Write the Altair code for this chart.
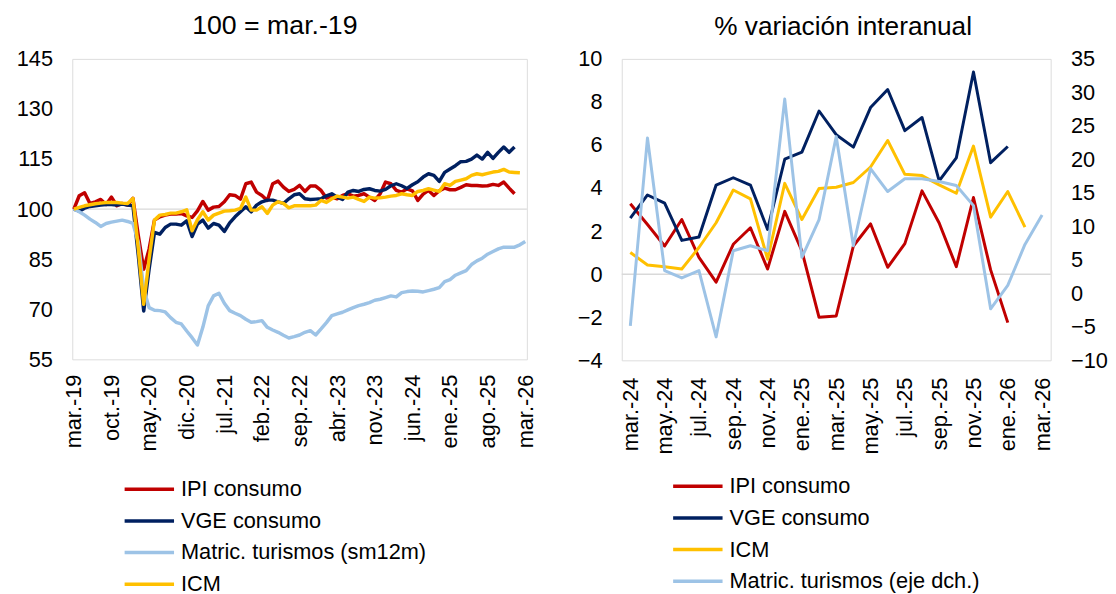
import altair as alt
import pandas as pd

FONT = "Liberation Sans"

MESES = ["ene.", "feb.", "mar.", "abr.", "may.", "jun.", "jul.", "ago.", "sep.", "oct.", "nov.", "dic."]


def month_labels(start_year, start_month, n):
    out = []
    y, m = start_year, start_month
    for _ in range(n):
        out.append(f"{MESES[m - 1]}-{y % 100:02d}")
        m += 1
        if m > 12:
            m = 1
            y += 1
    return out


# ---------------- left panel: index 100 = mar.-19 ----------------
meses_izq = month_labels(2019, 3, 85)
ticks_izq = meses_izq[::7]

ipi_idx = [100, 104.0, 104.9, 101.7, 102.2, 102.9, 101.4, 103.6, 101.0, 101.7, 101.2, 103.2,
           92, 82, 88, 96.7, 97.7, 98.2, 98.5, 98.5, 98.7, 98.0, 97.5, 99.5, 102.3, 99.7, 100.6,
           100.8, 102.2, 104.3, 104.1, 103.0, 107.6, 108.1, 105.1, 104.1, 102.6, 107.6, 108.4,
           106.6, 105.3, 105.9, 107.1, 105.3, 106.9, 106.9, 105.6, 103.3, 103.6, 103.1, 104.1,
           104.6, 103.9, 104.1, 104.6, 103.6, 102.6, 104.6, 108.1, 107.6, 105.6, 105.1, 106.1,
           105.5, 102.6, 104.5, 105.6, 104.1, 105.5, 106.3, 105.8, 105.8, 106.5, 107.3, 107.1,
           107.1, 106.9, 107.0, 107.4, 107.1, 108.1, 106.3, 104.6]
vge_idx = [100, 99.4, 100.3, 100.8, 101, 101.2, 101.4, 101.4, 101.2, 101.5, 101.2, 101,
           86, 69.5, 82, 93, 92.5, 94.5, 95.5, 95.5, 95.2, 96.5, 91.8, 95.5, 96.7, 94.3, 95.7,
           95.2, 93.3, 95.9, 97.7, 99.2, 100.7, 99.2, 101.2, 102.2, 102.7, 102.7, 102.2, 101.7,
           103.1, 104.3, 104.6, 103.1, 102.9, 103.0, 103.1, 104.0, 104.6, 103.6, 102.9, 105.1,
           105.6, 105.3, 105.9, 106.1, 105.6, 105.4, 105.9, 107, 107.6, 107, 106.2, 107.3,
           108.2, 109.6, 110.6, 110.1, 108.3, 111, 112, 113, 114.2, 114.3, 115, 116.2, 115,
           117, 115.2, 117, 118.6, 117, 118.6]
icm_idx = [100, 100.5, 101, 101.3, 101.6, 101.8, 102, 102, 102, 101.8, 101.7, 103.2,
           88, 71.5, 85, 96.7, 98.2, 98.4, 98.8, 98.8, 99.2, 99.8, 93.5, 96.8, 99.2, 96.7, 98.2,
           98.8, 99.4, 99.5, 99.7, 100.2, 103.6, 99.7, 99.7, 100.7, 98.7, 101.2, 102.2, 101.7,
           100.4, 101, 101, 101, 101, 101.2, 102.6, 102, 103.1, 103.9, 103.6, 103.3, 103.6,
           102.9, 102.3, 103.6, 103.3, 103.4, 103.6, 103.9, 104.1, 104.6, 104.3, 104.1, 105.3,
           105.6, 106.1, 105.7, 105.3, 107.6, 107.1, 108.3, 108.7, 109.1, 110.1, 110.6, 110.3,
           110.7, 111.1, 111.3, 111.9, 111.1, 111.0, 110.9]
mat_idx = [100, 99.2, 98.2, 97, 96, 94.8, 95.7, 96.1, 96.4, 96.7, 96.3, 95.7,
           90, 76, 70.5, 69.7, 69.6, 69.2, 67.5, 66.1, 65.6, 63.5, 61.5, 59.3, 64.6, 71, 74,
           74.8, 71.8, 69.6, 68.8, 68.1, 67, 66.1, 66.3, 66.6, 64.6, 63.8, 63.1, 62.2, 61.4,
           61.8, 62.3, 63.1, 63.6, 62.3, 64.1, 66, 68.1, 68.6, 69.1, 69.8, 70.5, 71.1, 71.5,
           72.0, 72.7, 73, 73.5, 74, 73.7, 75, 75.3, 75.5, 75.4, 75.2, 75.6, 76.0, 76.5, 78.3,
           78.9, 80.2, 80.9, 81.6, 83.4, 84.5, 85.3, 86.5, 87.3, 88.1, 88.6, 88.6, 88.6, 89.3,
           90.3]

series_izq = ["IPI consumo", "VGE consumo", "Matric. turismos (sm12m)", "ICM"]
colores_izq = ["#C00000", "#002060", "#9DC3E6", "#FFC000"]
valores_izq = [ipi_idx, vge_idx, mat_idx, icm_idx]

# ---------------- right panel: % y/y ----------------
meses_der = month_labels(2024, 3, 25)
ticks_der = meses_der[::2]

ipi_ia = [3.27, 2.31, 1.31, 2.54, 0.78, -0.37, 1.39, 2.16, 0.24, 2.92, 1.08, -2.0, -1.94,
          1.31, 2.34, 0.32, 1.42, 3.87, 2.38, 0.35, 3.56, 0.2, -2.25]
vge_ia = [2.61, 3.68, 3.30, 1.57, 1.73, 4.14, 4.48, 4.14, 2.08, 5.34, 5.67, 7.58, 6.48,
          5.90, 7.74, 8.58, 6.67, 7.28, 4.33, 5.40, 9.39, 5.18, 5.93]
icm_ia = [1.01, 0.43, 0.35, 0.24, 1.24, 2.39, 3.91, 3.50, 0.70, 4.22, 2.54, 3.98, 4.04,
          4.26, 4.98, 6.21, 4.64, 4.58, 4.15, 3.76, 5.95, 2.65, 3.84, 2.19]
mat_ia = [-4.86, 23.2, 3.4, 2.3, 3.4, -6.5, 6.36, 7.1, 6.36, 29.0, 5.37, 11.0, 23.4, 7.1,
          18.6, 15.2, 17.1, 17.1, 16.7, 16.1, 13.1, -2.3, 1.2, 7.3, 11.7]

series_der = ["IPI consumo", "VGE consumo", "ICM", "Matric. turismos (eje dch.)"]
colores_der = ["#C00000", "#002060", "#FFC000", "#9DC3E6"]

y_ticks_izq = [55, 70, 85, 100, 115, 130, 145]
y_ticks_der = [-4, -2, 0, 2, 4, 6, 8, 10]
y_ticks_der2 = [-10, -5, 0, 5, 10, 15, 20, 25, 30, 35]


def long_df(meses, nombres, listas):
    rows = []
    for k, (nom, vals) in enumerate(zip(nombres, listas)):
        for i, v in enumerate(vals):
            rows.append({"mes": meses[i], "serie": nom, "valor": v, "orden": k})
    return pd.DataFrame(rows)


df_izq = long_df(meses_izq, series_izq, valores_izq)
df_der_left = long_df(meses_der, series_der[:3], [ipi_ia, vge_ia, icm_ia])
df_der_right = long_df(meses_der, series_der[3:], [mat_ia])

LABEL = 22


def x_axis(meses, ticks, pad, lpad):
    return alt.X(
        "mes:O", sort=meses,
        scale=alt.Scale(type="point", padding=pad),
        axis=alt.Axis(values=ticks, labelAngle=-90, title=None, ticks=False, domain=False,
                      grid=False, labelFontSize=LABEL, labelPadding=lpad, labelColor="#000000",
                      labelFont=FONT),
    )


def y_axis(values, orient):
    return alt.Axis(values=values, orient=orient, title=None, ticks=False, domain=False,
                    grid=False, labelFontSize=LABEL, labelFont=FONT, labelColor="#000000",
                    labelPadding=20)


def legend(x, y):
    return alt.Legend(orient="none", legendX=x, legendY=y, direction="vertical", title=None,
                      symbolType="M-1,0H3", symbolSize=625, symbolStrokeWidth=3.5,
                      labelFontSize=LABEL, labelFont=FONT, labelColor="#000000",
                      labelOffset=30, rowPadding=6, labelLimit=400)


# left chart
y_izq = alt.Scale(domain=[55, 145], nice=False, zero=False)
ref_izq = alt.Chart(pd.DataFrame({"v": [100]})).mark_rule(color="#D9D9D9", strokeWidth=1.5).encode(
    y=alt.Y("v:Q", scale=y_izq, axis=y_axis(y_ticks_izq, "left"))
)
lines_izq = alt.Chart(df_izq).mark_line(strokeWidth=3.5, strokeJoin="round").encode(
    x=x_axis(meses_izq, ticks_izq, 0.3, 15),
    y=alt.Y("valor:Q", scale=y_izq, axis=y_axis(y_ticks_izq, "left")),
    color=alt.Color("serie:N", scale=alt.Scale(domain=series_izq, range=colores_izq),
                    legend=legend(51, 421)),
    detail="orden:N",
)
left = alt.layer(ref_izq, lines_izq).properties(
    width=460, height=304,
    title=alt.TitleParams("100 = mar.-19", fontSize=27, font=FONT, fontWeight="normal",
                          anchor="middle", dx=-25, offset=8, color="#000000"),
)

# right chart
ref_der = alt.Chart(pd.DataFrame({"v": [0]})).mark_rule(color="#D9D9D9", strokeWidth=1.5).encode(
    y=alt.Y("v:Q", scale=alt.Scale(domain=[-4, 10], nice=False), axis=None)
)
color_der = alt.Color("serie:N", scale=alt.Scale(domain=series_der, range=colores_der),
                      legend=legend(50, 418))
lines_der = alt.Chart(df_der_left).mark_line(strokeWidth=3, strokeJoin="round").encode(
    x=x_axis(meses_der, ticks_der, 0.5, 17),
    y=alt.Y("valor:Q", scale=alt.Scale(domain=[-4, 10], nice=False, zero=False),
            axis=y_axis(y_ticks_der, "left")),
    color=color_der,
    detail="orden:N",
)
line_mat = alt.Chart(df_der_right).mark_line(strokeWidth=3, strokeJoin="round").encode(
    x=x_axis(meses_der, ticks_der, 0.5, 17),
    y=alt.Y("valor:Q", scale=alt.Scale(domain=[-10, 35], nice=False, zero=False),
            axis=y_axis(y_ticks_der2, "right")),
    color=color_der,
)
right = alt.layer(ref_der, lines_der, line_mat).resolve_scale(y="independent").properties(
    width=434, height=305,
    title=alt.TitleParams("% variación interanual", fontSize=26.5, font=FONT, fontWeight="normal",
                          anchor="middle", dx=7, offset=8, color="#000000"),
)

chart = alt.hconcat(left, right, spacing=40).resolve_scale(color="independent").resolve_legend(
    color="independent"
).properties(
    padding={"left": 7, "top": 0, "right": 0, "bottom": 0}
).configure_view(stroke="#D9D9D9", strokeWidth=1.5).configure(background="white")

chart.save("out.html", embed_options={"renderer": "svg", "actions": False})
